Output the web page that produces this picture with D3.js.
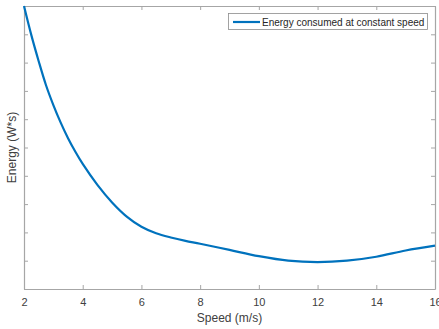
<!DOCTYPE html>
<html>
<head>
<meta charset="utf-8">
<script src="https://cdn.jsdelivr.net/npm/d3@7"></script>
<style>
  body { margin: 0; background: #fff; }
  text { font-family: "Liberation Sans", Arial, sans-serif; }
  .axis path, .axis line { stroke: #a6a6a6; }
  .axis text { fill: #404040; font-size: 11px; }
</style>
</head>
<body>
<svg id="chart" width="439" height="329"></svg>
<script>
const speeds = [2, 2.25, 2.5, 2.75, 3, 3.25, 3.5, 3.75, 4, 4.5, 5, 5.5, 6, 6.5, 7, 7.5, 8, 9, 10, 11, 12, 13, 14, 15, 16];
const energy = [10, 8.97, 8.05, 7.2, 6.5, 5.88, 5.33, 4.85, 4.42, 3.68, 3.06, 2.56, 2.2, 1.97, 1.82, 1.7, 1.6, 1.38, 1.16, 1.0, 0.95, 1.0, 1.14, 1.36, 1.53];
const xTicks = [2, 4, 6, 8, 10, 12, 14, 16];
const yTicks = [0, 1, 2, 3, 4, 5, 6, 7, 8, 9, 10];
const seriesName = 'Energy consumed at constant speed';

const width = 439;
const height = 329;
const plotLeft = 24, plotRight = 435, plotTop = 6, plotBottom = 289;

const svg = d3.select('#chart');

const xscale = d3.scaleLinear().domain([2, 16]).range([plotLeft, plotRight]);
const yscale = d3.scaleLinear().domain([0, 10]).range([plotBottom, plotTop]);

// box axes, ticks pointing inward like matlab
svg.append('g')
  .attr('class', 'axis')
  .attr('transform', `translate(0, ${plotBottom})`)
  .call(d3.axisBottom(xscale).tickValues(xTicks).tickSizeInner(-4).tickSizeOuter(0).tickPadding(9));

svg.append('g')
  .attr('class', 'axis')
  .attr('transform', `translate(0, ${plotTop})`)
  .call(d3.axisTop(xscale).tickValues(xTicks).tickSizeInner(-4).tickSizeOuter(0).tickFormat(''));

svg.append('g')
  .attr('class', 'axis')
  .attr('transform', `translate(${plotLeft}, 0)`)
  .call(d3.axisLeft(yscale).tickValues(yTicks).tickSizeInner(-4).tickSizeOuter(0).tickFormat(''));

svg.append('g')
  .attr('class', 'axis')
  .attr('transform', `translate(${plotRight}, 0)`)
  .call(d3.axisRight(yscale).tickValues(yTicks).tickSizeInner(-4).tickSizeOuter(0).tickFormat(''));

svg.selectAll('.axis .domain').attr('stroke-width', 1.2);

const line = d3.line()
  .x((d, i) => xscale(speeds[i]))
  .y((d) => yscale(d))
  .curve(d3.curveCatmullRom.alpha(0.5));

svg.append('path')
  .datum(energy)
  .attr('fill', 'none')
  .attr('stroke', '#0072BD')
  .attr('stroke-width', 2.2)
  .attr('d', line);

// axis titles
svg.append('text')
  .text('Speed (m/s)')
  .attr('x', (plotLeft + plotRight) / 2)
  .attr('y', 322)
  .attr('text-anchor', 'middle')
  .attr('font-size', 12)
  .attr('fill', '#404040');

svg.append('text')
  .text('Energy (W*s)')
  .attr('transform', `translate(16, ${(plotTop + plotBottom) / 2}) rotate(-90)`)
  .attr('text-anchor', 'middle')
  .attr('font-size', 12)
  .attr('fill', '#404040');

// legend
const legend = svg.append('g');
legend.append('rect')
  .attr('x', 228.5)
  .attr('y', 13.5)
  .attr('width', 199)
  .attr('height', 16)
  .attr('fill', '#fff')
  .attr('stroke', '#8c8c8c')
  .attr('stroke-width', 0.8);
legend.append('line')
  .attr('x1', 233).attr('x2', 260)
  .attr('y1', 22).attr('y2', 22)
  .attr('stroke', '#0072BD')
  .attr('stroke-width', 2.2);
legend.append('text')
  .text(seriesName)
  .attr('x', 262)
  .attr('y', 25.5)
  .attr('font-size', 10)
  .attr('fill', '#262626');
</script>
</body>
</html>
